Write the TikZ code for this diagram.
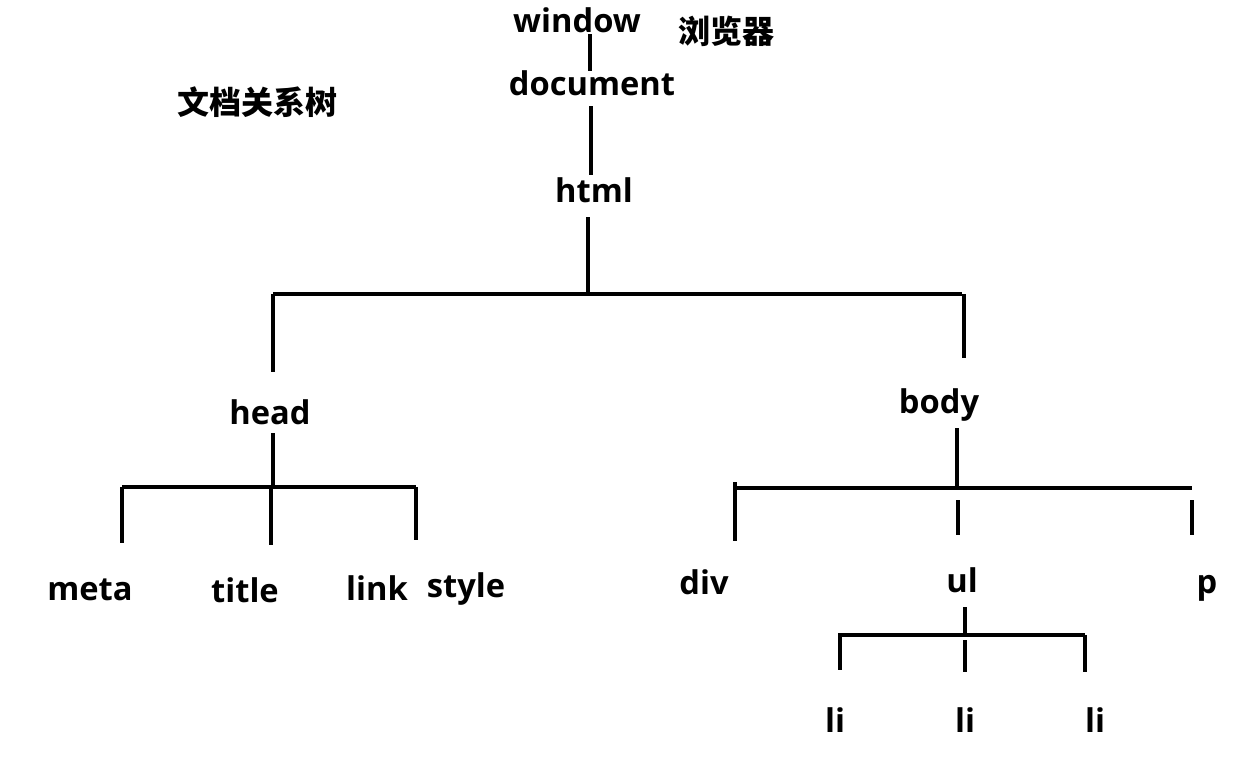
\documentclass[tikz,border=0pt]{standalone}
\usepackage{fontspec}
\setmainfont{Open Sans}
\newfontfamily\cjk{Noto Sans CJK SC}
\begin{document}
\begin{tikzpicture}[x=0.75pt,y=-0.75pt,
  lbl/.style={inner sep=0pt,font=\fontsize{24.5}{28}\selectfont\bfseries},
  clbl/.style={inner sep=0pt,font=\fontsize{24}{28}\selectfont\cjk\bfseries},
  ln/.style={line width=2.6pt}]
\useasboundingbox[fill=white] (0,0) rectangle (1250,757);
% labels
\node[lbl] (window) at (577,20) {window};
\node[clbl] (browser) at (726,31) {浏览器};
\node[lbl] (document) at (592,83) {document};
\node[clbl] (tree) at (257,102) {文档关系树};
\node[lbl] (html) at (594,190) {html};
\node[lbl] (head) at (270,412) {head};
\node[lbl] (body) at (939,405) {body};
\node[lbl] (meta) at (90,590) {meta};
\node[lbl] (title) at (245,590) {title};
\node[lbl] (link) at (377,588) {link};
\node[lbl] (style) at (466,589) {style};
\node[lbl] (div) at (704,582) {div};
\node[lbl] (ul) at (962,580) {ul};
\node[lbl] (p) at (1207,588) {p};
\node[lbl] (li1) at (835,720) {li};
\node[lbl] (li2) at (965,720) {li};
\node[lbl] (li3) at (1095,720) {li};
% connector points
\coordinate (wd1) at (590,34); \coordinate (wd2) at (590,71);
\coordinate (dh1) at (591,106); \coordinate (dh2) at (591,175);
\coordinate (hb1) at (588,217); \coordinate (hb2) at (588,294);
\coordinate (barAL) at (273,294); \coordinate (barAR) at (962,294);
\coordinate (headT) at (273,372); \coordinate (bodyT1) at (964,294); \coordinate (bodyT) at (964,358);
\coordinate (hd1) at (273,433); \coordinate (hd2) at (273,487);
\coordinate (barBL) at (122,487); \coordinate (barBR) at (416,487);
\coordinate (metaT) at (122,543); \coordinate (titleB) at (271,487); \coordinate (titleT) at (271,545); \coordinate (linkT) at (416,540);
\coordinate (bd1) at (957,428); \coordinate (bd2) at (957,487);
\coordinate (barCL) at (734,488); \coordinate (barCR) at (1192,488);
\coordinate (tick1) at (735,482); \coordinate (divT) at (735,541);
\coordinate (ulB) at (958,500); \coordinate (ulT) at (958,535);
\coordinate (pB) at (1192,500); \coordinate (pT) at (1192,535);
\coordinate (ud1) at (965,607); \coordinate (ud2) at (965,635);
\coordinate (barDL) at (838,635); \coordinate (barDR) at (1085,635);
\coordinate (li1B) at (840,635); \coordinate (li1T) at (840,670);
\coordinate (li2B) at (965,640); \coordinate (li2T) at (965,672);
\coordinate (li3B) at (1085,635); \coordinate (li3T) at (1085,672);
% connectors
\draw[ln] (wd1) -- (wd2);
\draw[ln] (dh1) -- (dh2);
\draw[ln] (hb1) -- (hb2);
\draw[ln] (barAL) -- (barAR);
\draw[ln] (barAL) -- (headT);
\draw[ln] (bodyT1) -- (bodyT);
\draw[ln] (hd1) -- (hd2);
\draw[ln] (barBL) -- (barBR);
\draw[ln] (barBL) -- (metaT);
\draw[ln] (titleB) -- (titleT);
\draw[ln] (barBR) -- (linkT);
\draw[ln] (bd1) -- (bd2);
\draw[ln] (barCL) -- (barCR);
\draw[ln] (tick1) -- (divT);
\draw[ln] (ulB) -- (ulT);
\draw[ln] (pB) -- (pT);
\draw[ln] (ud1) -- (ud2);
\draw[ln] (barDL) -- (barDR);
\draw[ln] (li1B) -- (li1T);
\draw[ln] (li2B) -- (li2T);
\draw[ln] (li3B) -- (li3T);
\end{tikzpicture}
\end{document}
